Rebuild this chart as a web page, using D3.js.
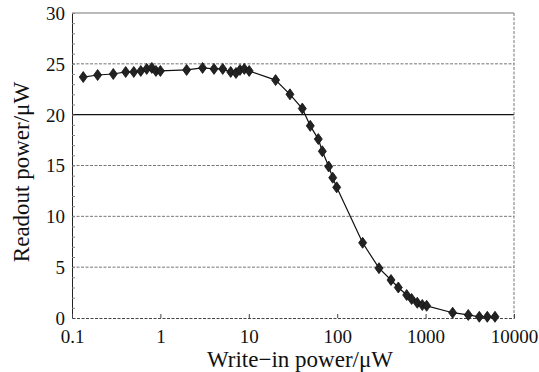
<!DOCTYPE html>
<html>
<head>
<meta charset="utf-8">
<script src="https://cdn.jsdelivr.net/npm/d3@7"></script>
<style>
  body { margin: 0; background: #fff; }
  text { font-family: "Liberation Serif", "DejaVu Serif", serif; fill: #111; }
</style>
</head>
<body>
<div id="chart"></div>
<script>
// write-in power (µW) vs readout power (µW)
const writeIn = [0.134, 0.195, 0.293, 0.405, 0.50, 0.60, 0.70, 0.80, 0.89, 1.0,
  1.98, 3.0, 4.04, 5.07, 6.24, 7.16, 7.95, 8.9, 10.1,
  20.1, 29.2, 40.3, 49.6, 61.1, 67.9, 80.2, 89, 98.7,
  194, 297, 406, 491, 611, 695, 805, 918, 1028, 2023, 3040, 4050, 4990, 6095];
const readout = [23.7, 23.9, 24.0, 24.2, 24.2, 24.3, 24.5, 24.6, 24.3, 24.3,
  24.4, 24.6, 24.5, 24.5, 24.2, 24.1, 24.4, 24.5, 24.3,
  23.4, 22.0, 20.6, 18.9, 17.6, 16.4, 14.9, 13.8, 12.85,
  7.4, 4.9, 3.74, 3.0, 2.26, 1.87, 1.5, 1.28, 1.2, 0.52, 0.3, 0.12, 0.12, 0.12];
const xTicks = [0.1, 1, 10, 100, 1000, 10000];
const yTicks = [0, 5, 10, 15, 20, 25, 30];

const W = 539, H = 372;
const margin = { top: 13, right: 25, bottom: 54, left: 72 };
const width = W - margin.left - margin.right;
const height = H - margin.top - margin.bottom;

const svg = d3.select('#chart').append('svg')
  .attr('width', W).attr('height', H);
const g = svg.append('g')
  .attr('transform', `translate(${margin.left},${margin.top})`);

const x = d3.scaleLog().domain([0.1, 10000]).range([0, width]);
const y = d3.scaleLinear().domain([0, 30]).range([height, 0]);

// horizontal grid lines (20 is solid, rest dashed grey)
g.selectAll('.grid')
  .data(yTicks.filter(v => v > 0 && v < 30))
  .enter().append('line')
  .attr('x1', 0).attr('x2', width)
  .attr('y1', d => y(d)).attr('y2', d => y(d))
  .attr('stroke', d => d === 20 ? '#111' : '#777')
  .attr('stroke-width', d => d === 20 ? 1.3 : 1)
  .attr('stroke-dasharray', d => d === 20 ? null : '3,1.5');

// frame: top solid grey, right dashed
g.append('line').attr('x1', 0).attr('x2', width).attr('y1', 0).attr('y2', 0)
  .attr('stroke', '#777').attr('stroke-width', 1.2);
g.append('line').attr('x1', width).attr('x2', width).attr('y1', 0).attr('y2', height)
  .attr('stroke', '#777').attr('stroke-dasharray', '3,1.5');

// y axis with minor ticks pointing inward
const yAxis = g.append('g')
  .call(d3.axisLeft(y).tickValues(d3.range(0, 31, 1)).tickSize(-3).tickFormat(''));
yAxis.select('.domain').attr('stroke', '#222');
yAxis.selectAll('.tick line').attr('stroke', '#888');
yAxis.selectAll('.tick')
  .filter(d => yTicks.includes(d))
  .append('text')
  .attr('x', -7).attr('dy', '0.34em')
  .attr('text-anchor', 'end')
  .style('font-size', '19px')
  .text(d => d);

// x axis
const xAxis = g.append('g')
  .attr('transform', `translate(0,${height})`)
  .call(d3.axisBottom(x).tickValues(xTicks).tickSize(-4).tickPadding(12)
    .tickFormat(d => d < 1 ? '0.1' : d3.format('d')(d)));
xAxis.select('.domain').attr('stroke', '#444').attr('stroke-dasharray', '3,1.5');
xAxis.selectAll('.tick line').attr('stroke', '#444');
xAxis.selectAll('.tick text').style('font-size', '19px').attr('fill', '#111');

// curve
const pts = writeIn.map((v, i) => [v, readout[i]]);
g.append('path')
  .datum(pts)
  .attr('fill', 'none')
  .attr('stroke', '#111')
  .attr('stroke-width', 1.2)
  .attr('d', d3.line().x(d => x(d[0])).y(d => y(d[1])));

// diamond markers
g.selectAll('.pt')
  .data(pts)
  .enter().append('path')
  .attr('transform', d => `translate(${x(d[0])},${y(d[1])})`)
  .attr('d', 'M0,-5.5L4,0L0,5.5L-4,0Z')
  .attr('fill', '#222')
  .attr('stroke', '#111')
  .attr('stroke-width', 0.8);

// axis titles
svg.append('text')
  .attr('x', 300).attr('y', 367)
  .attr('text-anchor', 'middle')
  .style('font-size', '23px')
  .text('Write\u2212in power/\u03bcW');

svg.append('text')
  .attr('transform', 'translate(29,172) rotate(-90)')
  .attr('text-anchor', 'middle')
  .style('font-size', '23px')
  .text('Readout power/\u03bcW');
</script>
</body>
</html>
